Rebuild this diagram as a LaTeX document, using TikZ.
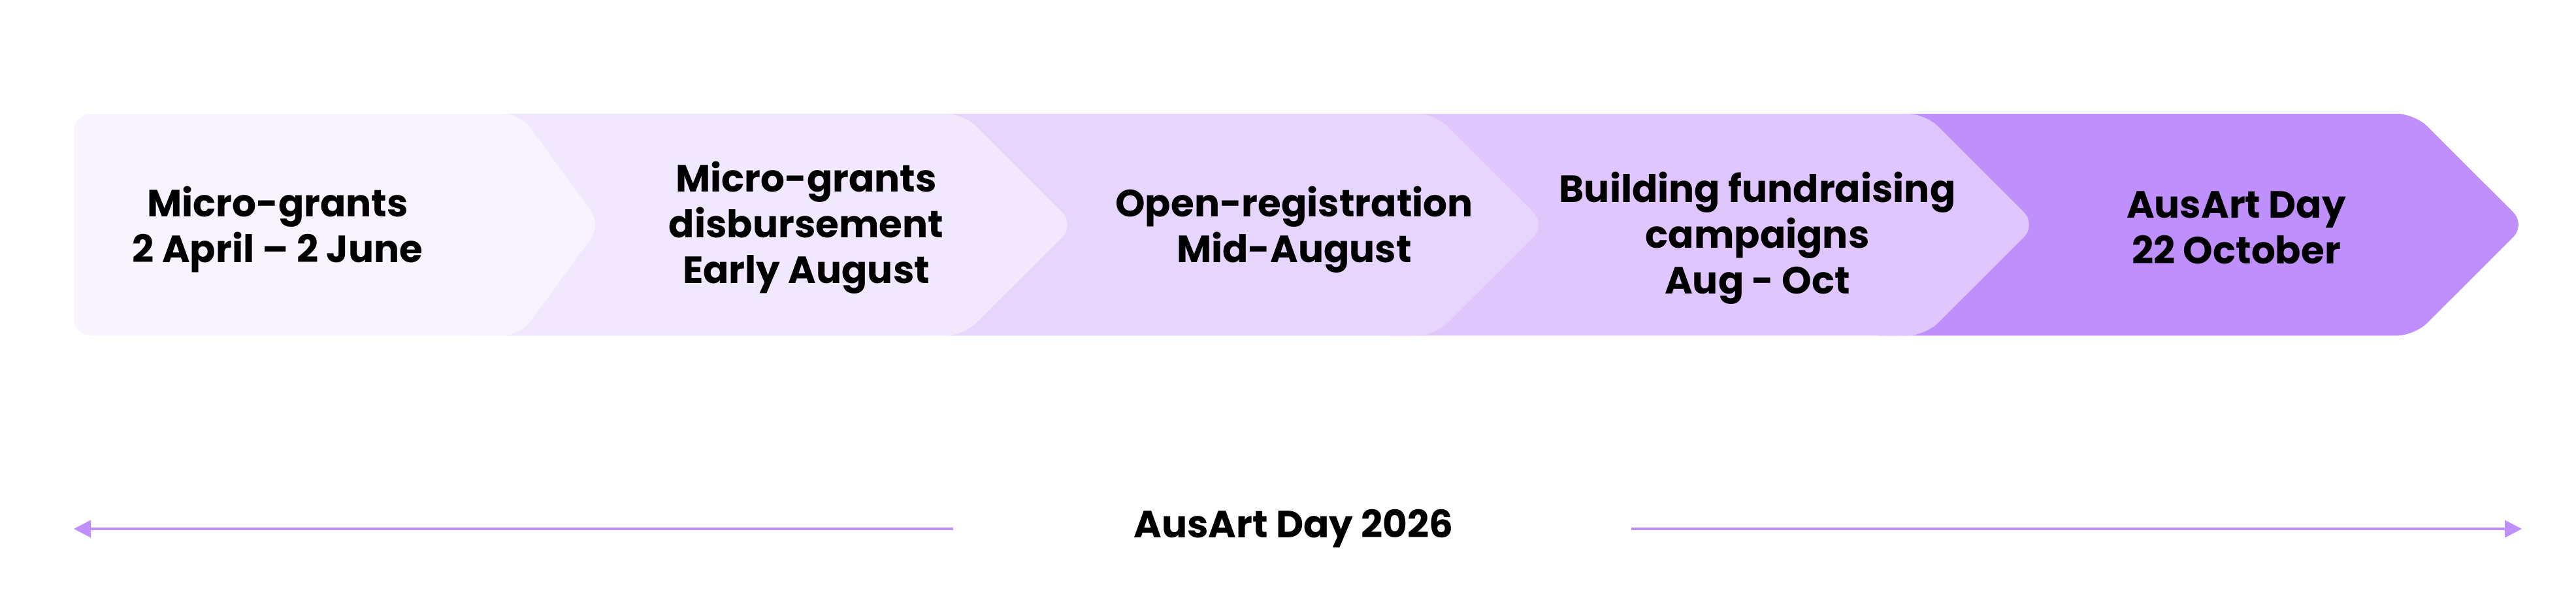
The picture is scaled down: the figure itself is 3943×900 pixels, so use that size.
\documentclass[tikz,border=0pt]{standalone}
\usepackage{fontspec}
\setmainfont{Poppins}
\usetikzlibrary{arrows.meta}
\definecolor{cA}{HTML}{F8F3FE}
\definecolor{cB}{HTML}{F1E8FE}
\definecolor{cC}{HTML}{E6D5FD}
\definecolor{cD}{HTML}{DFC7FD}
\definecolor{cE}{HTML}{BF8FFC}
\begin{document}
\begin{tikzpicture}[x=0.01cm,y=-0.01cm,
  lbl/.style={font=\fontsize{16.5pt}{20pt}\selectfont\bfseries, anchor=base, inner sep=0pt, text=black},
  chev/.style={rounded corners=0.27cm},
  span/.style={line width=0.04cm, draw=cE, -{Triangle[length=0.26cm,width=0.26cm]}}]
\useasboundingbox (0,0) rectangle (3943,900);
\fill[white] (0,0) rectangle (3943,900);
% chevrons, back to front
\fill[cE, chev] (2850,174) -- (3696,174) -- (3866,343.7) -- (3696,513.3) -- (2850,513.3) -- cycle;
\fill[cD, chev] (2100,174) -- (2947,174) -- (3117,343.7) -- (2947,513.3) -- (2100,513.3) -- cycle;
\fill[cC, chev] (1380,174) -- (2196,174) -- (2366,343.7) -- (2196,513.3) -- (1380,513.3) -- cycle;
\fill[cB, chev] (700,174) -- (1475,174) -- (1645,343.7) -- (1475,513.3) -- (700,513.3) -- cycle;
\fill[cA, chev] (113,174) -- (796,174) -- (920,343.7) -- (796,513.3) -- (113,513.3) -- cycle;
% labels
\node[lbl] (a1) at (425,331) {Micro-grants};
\node[lbl] (a2) at (425,401) {2 April – 2 June};
\node[lbl] (b1) at (1234,293) {Micro-grants};
\node[lbl] (b2) at (1234,363) {disbursement};
\node[lbl] (b3) at (1234,433) {Early August};
\node[lbl] (c1) at (1981,331) {Open-registration};
\node[lbl] (c2) at (1981,401) {Mid-August};
\node[lbl] (d1) at (2690,309) {Building fundraising};
\node[lbl] (d2) at (2690,379) {campaigns};
\node[lbl] (d3) at (2690,449) {Aug - Oct};
\node[lbl] (e1) at (3423,333) {AusArt Day};
\node[lbl] (e2) at (3423,403) {22 October};
% bottom span
\node[lbl] (yr) at (1980,822) {AusArt Day 2026};
\coordinate (Lin) at (1459,809);
\coordinate (Ltip) at (113,809);
\coordinate (Rin) at (2497,809);
\coordinate (Rtip) at (3860,809);
\draw[span] (Lin) -- (Ltip);
\draw[span] (Rin) -- (Rtip);
\end{tikzpicture}
\end{document}
